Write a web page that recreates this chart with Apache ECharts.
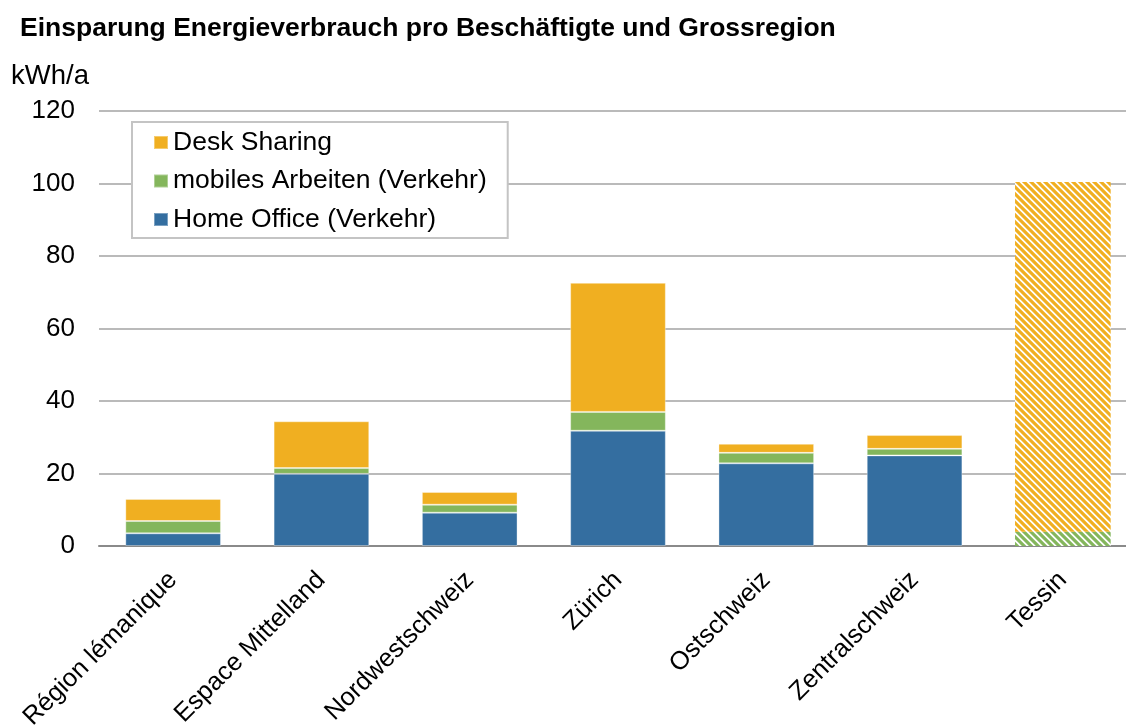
<!DOCTYPE html>
<html>
<head>
<meta charset="utf-8">
<title>Einsparung Energieverbrauch pro Beschäftigte und Grossregion</title>
<script src="https://cdn.jsdelivr.net/npm/echarts@6/dist/echarts.min.js"></script>
<style>
  html, body { margin: 0; padding: 0; background: #ffffff; }
  #chart { width: 1126px; height: 725px; }
</style>
</head>
<body>
<div id="chart"></div>
<script>
// Grossregionen der Schweiz
const categories = ['Région lémanique', 'Espace Mittelland', 'Nordwestschweiz', 'Zürich', 'Ostschweiz', 'Zentralschweiz', 'Tessin'];

// Einsparung in kWh/a pro Beschäftigte
const homeOffice      = [3.5, 19.9, 9.2, 31.8, 22.8, 25.0, 0];
const mobilesArbeiten = [3.4, 1.6, 2.2, 5.2, 2.9, 1.8, 3.9];
const deskSharing     = [6.1, 12.9, 3.5, 35.6, 2.5, 3.8, 96.5];

// Regionen, deren Werte schraffiert dargestellt werden
const hatchedRegions = ['Tessin'];

const yTicks = [0, 20, 40, 60, 80, 100, 120];
const seriesNames = ['Home Office (Verkehr)', 'mobiles Arbeiten (Verkehr)', 'Desk Sharing'];

const FONT = "'Liberation Sans', Arial, Helvetica, sans-serif";
const COLORS = {
  'Home Office (Verkehr)': '#346EA0',
  'mobiles Arbeiten (Verkehr)': '#84B65C',
  'Desk Sharing': '#F0AF21'
};

// Diagonal stripe tile ("\" direction), anti-aliased by supersampling
function stripePattern(color) {
  const N = 7, band = 4.4, ss = 4;
  const c = document.createElement('canvas');
  c.width = N; c.height = N;
  const ctx = c.getContext('2d');
  const img = ctx.createImageData(N, N);
  const hex = color.replace('#', '');
  const r = parseInt(hex.slice(0, 2), 16), g = parseInt(hex.slice(2, 4), 16), b = parseInt(hex.slice(4, 6), 16);
  for (let y = 0; y < N; y++) {
    for (let x = 0; x < N; x++) {
      let cov = 0;
      for (let sy = 0; sy < ss; sy++) {
        for (let sx = 0; sx < ss; sx++) {
          const px = x + (sx + 0.5) / ss, py = y + (sy + 0.5) / ss;
          const d = (((px - py) % N) + N) % N;
          if (d < band) cov++;
        }
      }
      cov /= ss * ss;
      const i = (y * N + x) * 4;
      img.data[i]     = Math.round(255 + (r - 255) * cov);
      img.data[i + 1] = Math.round(255 + (g - 255) * cov);
      img.data[i + 2] = Math.round(255 + (b - 255) * cov);
      img.data[i + 3] = 255;
    }
  }
  ctx.putImageData(img, 0, 0);
  return { image: c, repeat: 'repeat' };
}

function buildSeries(name, values) {
  const pattern = stripePattern(COLORS[name]);
  return {
    name: name,
    type: 'bar',
    stack: 'total',
    barWidth: '64.5%',
    itemStyle: {
      color: COLORS[name],
      borderColor: 'rgba(255,255,255,0.35)',
      borderWidth: 1
    },
    emphasis: { disabled: true },
    data: values.map((v, i) => hatchedRegions.includes(categories[i])
      ? { value: v, itemStyle: { color: pattern, borderWidth: 0 } }
      : v)
  };
}

const chart = echarts.init(document.getElementById('chart'), null, { renderer: 'canvas' });

chart.setOption({
  animation: false,
  backgroundColor: '#ffffff',
  title: {
    text: 'Einsparung Energieverbrauch pro Beschäftigte und Grossregion',
    left: 15,
    top: 10,
    textStyle: { fontFamily: FONT, fontSize: 26.5, fontWeight: 'bold', color: '#000000' }
  },
  legend: {
    data: ['Desk Sharing', 'mobiles Arbeiten (Verkehr)', 'Home Office (Verkehr)'],
    orient: 'vertical',
    left: 132,
    top: 122,
    padding: [6.5, 21, 4.5, 21],
    itemWidth: 14,
    itemHeight: 13,
    itemGap: 10.5,
    icon: 'rect',
    borderColor: '#c4c4c4',
    borderWidth: 2,
    backgroundColor: '#ffffff',
    selectedMode: false,
    textStyle: { fontFamily: FONT, fontSize: 26.5, color: '#000000', lineHeight: 28 }
  },
  grid: {
    left: 99,
    width: 1038,
    top: 111,
    bottom: 179,
    containLabel: false,
    outerBoundsMode: 'none'
  },
  xAxis: {
    type: 'category',
    data: categories,
    axisLine: { show: true, lineStyle: { color: '#8a8a8a', width: 2 } },
    axisTick: { show: false },
    axisLabel: {
      rotate: 45,
      margin: 30,
      interval: 0,
      fontFamily: FONT,
      fontSize: 25.5,
      color: '#000000'
    }
  },
  yAxis: {
    type: 'value',
    min: yTicks[0],
    max: yTicks[yTicks.length - 1],
    interval: yTicks[1] - yTicks[0],
    name: 'kWh/a',
    nameLocation: 'end',
    nameGap: 21,
    nameTextStyle: {
      fontFamily: FONT,
      fontSize: 27.5,
      color: '#000000',
      align: 'right',
      verticalAlign: 'bottom',
      padding: [0, 10, 0, 0]
    },
    axisLine: { show: false },
    axisTick: { show: false },
    axisLabel: {
      margin: 24,
      fontFamily: FONT,
      fontSize: 26,
      color: '#000000'
    },
    splitLine: { lineStyle: { color: '#a3a3a3', width: 1.5 } }
  },
  series: [
    buildSeries(seriesNames[0], homeOffice),
    buildSeries(seriesNames[1], mobilesArbeiten),
    buildSeries(seriesNames[2], deskSharing)
  ]
});
</script>
</body>
</html>
